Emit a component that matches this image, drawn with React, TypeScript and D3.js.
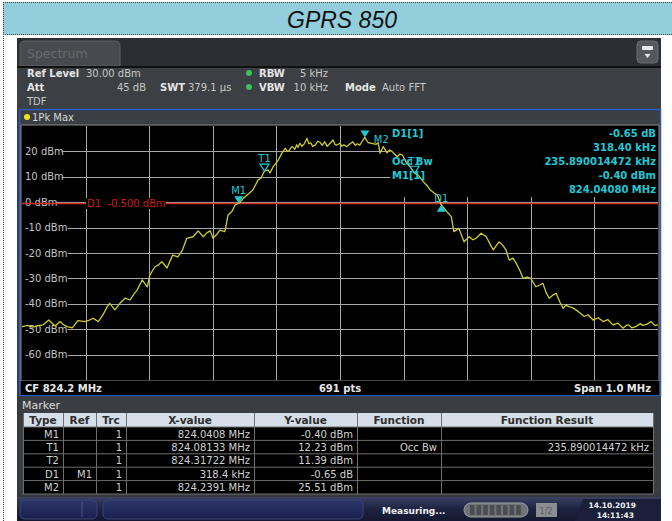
import React from "react";
import * as d3 from "d3";

// Trace: offset from start frequency 823.7 MHz (kHz) and level (dBm)
const traceKHz = [
  0, 9, 17, 25, 33, 42, 52, 60, 66, 71, 79, 88, 99, 105, 112, 120, 127, 134, 138, 146,
  154, 162, 170, 176, 181, 189, 197, 201, 209, 214, 220, 228, 233, 237, 245, 252, 259, 269, 277, 285,
  291, 296, 300, 307, 311, 319, 324, 330, 335, 341, 348, 354, 363, 371, 376, 381, 387, 390, 395, 403,
  409, 414, 417, 420, 423, 425, 429, 432, 434, 437, 440, 444, 448, 451, 454, 457, 461, 465, 469, 472,
  476, 480, 483, 486, 489, 492, 495, 500, 503, 506, 511, 516, 520, 524, 527, 531, 535, 539, 544, 550,
  557, 560, 563, 568, 574, 578, 582, 590, 594, 598, 605, 610, 617, 623, 631, 637, 642, 648, 653, 659,
  668, 675, 679, 687, 695, 703, 709, 714, 722, 730, 736, 741, 750, 756, 761, 766, 772, 777, 783, 788,
  794, 800, 808, 815, 819, 824, 829, 835, 840, 846, 851, 855, 860, 866, 871, 877, 884, 890, 898, 906,
  914, 921, 929, 937, 945, 950, 954, 959, 965, 972, 976, 983, 989, 995, 1000,
];
const traceDbm = [
  -49.0, -48.5, -49.2, -48.6, -48.3, -46.4, -48.7, -47.0, -48.4, -49.0, -49.5, -46.6, -47.0, -46.5, -45.7, -47.0, -44.5, -41.1, -39.8, -42.4,
  -39.8, -37.8, -38.5, -36.2, -34.6, -30.6, -33.3, -28.7, -25.4, -24.8, -23.4, -25.9, -23.0, -20.8, -21.5, -19.0, -14.2, -13.6, -11.3, -13.6,
  -12.0, -11.3, -14.1, -12.5, -11.0, -11.6, -5.0, -3.7, -1.1, -0.4, 1.5, 2.8, 4.8, 8.7, 9.5, 12.2, 12.7, 11.5, 14.0, 16.6,
  19.5, 21.2, 20.0, 20.3, 21.5, 21.9, 20.8, 22.6, 21.6, 23.2, 22.0, 23.0, 25.2, 23.0, 23.4, 22.0, 22.5, 24.0, 23.5, 22.4,
  23.8, 22.0, 22.8, 23.6, 24.5, 22.8, 22.5, 23.2, 22.0, 22.6, 21.9, 23.0, 23.8, 22.4, 23.0, 22.5, 24.0, 25.5, 23.5, 23.2,
  22.8, 23.4, 19.3, 21.9, 19.4, 20.6, 19.9, 17.9, 18.9, 18.6, 15.3, 14.0, 11.4, 10.7, 8.1, 6.5, 4.8, 3.6, 2.8, -1.0,
  -3.7, -5.7, -11.6, -10.3, -15.6, -13.6, -14.8, -14.2, -12.2, -13.6, -16.5, -18.8, -15.6, -17.0, -18.8, -22.8, -22.0, -24.0, -27.0, -30.0,
  -29.5, -30.0, -33.3, -32.5, -31.9, -35.5, -37.8, -36.5, -35.9, -39.5, -41.8, -40.5, -41.1, -41.6, -42.4, -43.5, -45.0, -44.3, -46.4, -45.5,
  -47.0, -46.2, -48.3, -47.6, -49.6, -48.5, -48.3, -49.5, -49.0, -47.8, -48.5, -48.0, -47.0, -48.5, -48.3,
];

const startMHz = 823.7;
const yTicks = [20, 10, 0, -10, -20, -30, -40, -50, -60];
const xGrid = [100, 200, 300, 400, 500, 600, 700, 800, 900];
const displayLine = -0.5;

// marker table
const markerNames = ["M1", "T1", "T2", "D1", "M2"];
const markerRefs = ["", "", "", "M1", ""];
const markerTrcs = ["1", "1", "1", "1", "1"];
const markerXText = ["824.0408 MHz", "824.08133 MHz", "824.31722 MHz", "318.4 kHz", "824.2391 MHz"];
const markerYText = ["-0.40 dBm", "12.23 dBm", "11.39 dBm", "-0.65 dB", "25.51 dBm"];
const markerFunc = ["", "Occ Bw", "", "", ""];
const markerResult = ["", "235.890014472 kHz", "", "", ""];
// marker positions on the trace
const markerMHz = [824.0408, 824.08133, 824.31722, 824.3592, 824.2391];
const markerDbm = [-0.4, 12.23, 11.39, -1.05, 25.51];
const markerKind = ["fill", "hollow", "hollow", "up", "fill"];

const infoLabels = ["D1[1]", "", "Occ Bw", "M1[1]", ""];
const infoValues = ["-0.65 dB", "318.40 kHz", "235.890014472 kHz", "-0.40 dBm", "824.04080 MHz"];

const tableCols = [23, 63, 96, 126, 254, 357, 441, 653];
const tableHeads = ["Type", "Ref", "Trc", "X-value", "Y-value", "Function", "Function Result"];

const FONT = "'DejaVu Sans', Verdana, sans-serif";
const CYAN = "#22c8d4";

export default function App() {
  const x = d3.scaleLinear([0, 1000], [22, 658]);
  const y = d3.scaleLinear([-70, 30], [380, 126]);
  const line = d3
    .line<number>()
    .x((i) => x(traceKHz[i]))
    .y((i) => y(traceDbm[i]));
  const tracePath = line(d3.range(traceKHz.length)) || "";

  const rowTop = (i: number) => 427 + i * 13.4;

  return (
    <svg
      width={672}
      height={521}
      style={{ position: "absolute", left: 0, top: 0, background: "#fff" }}
      fontFamily={FONT}
    >
      {/* title strip */}
      <rect x={3} y={2} width={669} height={33} fill="#93cedd" />
      <line x1={3} x2={672} y1={2.5} y2={2.5} stroke="#444" strokeDasharray="1 1" />
      <line x1={3} x2={672} y1={34.5} y2={34.5} stroke="#444" strokeDasharray="1 1" />
      <line x1={3.5} x2={3.5} y1={2} y2={521} stroke="#444" strokeDasharray="1 1" />
      <text x={342} y={28} textAnchor="middle" fontFamily="'Liberation Sans', Arial, sans-serif" fontStyle="italic" fontSize={23} fill="#111">
        GPRS 850
      </text>

      {/* instrument screen */}
      <rect x={17} y={38} width={644} height={483} fill="#35383c" />
      <rect x={17} y={38} width={644} height={28} fill="#2b2e32" />
      <path d="M20,66 V46 Q20,41 25,41 H115 Q120,41 120,46 V66 Z" fill="#474b4f" stroke="#5c6064" />
      <text x={27} y={58} fontSize={12.5} fill="#666a6e">Spectrum</text>
      <rect x={637} y={41} width={21} height={22} rx={4} fill="#55595d" stroke="#6a6e72" />
      <rect x={642} y={46} width={11} height={4} rx={1} fill="#e8e8f0" />
      <path d="M644.5,54 L650.5,54 L647.5,58 Z" fill="#e8e8f0" />
      <rect x={17} y={66} width={644} height={2} fill="#111" />
      <rect x={17} y={68} width={644} height={41} fill="#3c3f43" />

      <g fontSize={10} fill="#e6e6e6">
        <text x={27} y={77} fontWeight="bold">Ref Level</text>
        <text x={86} y={77} fill="#c8c8c8">30.00 dBm</text>
        <text x={27} y={91} fontWeight="bold">Att</text>
        <text x={146} y={91} fill="#c8c8c8" textAnchor="end">45 dB</text>
        <text x={160} y={91} fontWeight="bold">SWT</text>
        <text x={188} y={91} fill="#c8c8c8">379.1 µs</text>
        <text x={259} y={77} fontWeight="bold">RBW</text>
        <text x={328} y={77} fill="#c8c8c8" textAnchor="end">5 kHz</text>
        <text x={259} y={91} fontWeight="bold">VBW</text>
        <text x={328} y={91} fill="#c8c8c8" textAnchor="end">10 kHz</text>
        <text x={345} y={91} fontWeight="bold">Mode</text>
        <text x={382} y={91} fill="#c8c8c8">Auto FFT</text>
        <text x={27} y={105} fill="#c8c8c8">TDF</text>
      </g>
      <circle cx={249} cy={73} r={3} fill="#3cc05a" />
      <circle cx={249} cy={87} r={3} fill="#3cc05a" />

      {/* diagram window */}
      <rect x={19.5} y={109.5} width={641} height={286} fill="#3b3e42" stroke="#2c5cc0" strokeWidth={1.5} />
      <circle cx={27} cy={117} r={3} fill="#f0e020" />
      <text x={32} y={121} fontSize={10} fill="#d8d8d8">1Pk Max</text>
      <rect x={21} y={125} width={638} height={256} fill="#000" stroke="#8a8a8a" strokeWidth={1} />

      {/* grid */}
      <g stroke="#a8a8a8" strokeWidth={1}>
        {xGrid.map((k) => (
          <line key={k} x1={Math.round(x(k)) + 0.5} x2={Math.round(x(k)) + 0.5} y1={126} y2={380} />
        ))}
        {yTicks.map((v) => (
          <line key={v} x1={22} x2={658} y1={Math.round(y(v)) + 0.5} y2={Math.round(y(v)) + 0.5} />
        ))}
      </g>
      {/* y labels with black backing */}
      {yTicks.map((v) => {
        const label = `${v} dBm`;
        return (
          <g key={v}>
            <rect x={22} y={y(v) - 6} width={label.length * 6.1 + 3} height={12} fill="#000" />
            <text x={25} y={y(v) + 3.5} fontSize={10} fill="#c4c4c4">{label}</text>
          </g>
        );
      })}

      {/* marker info box */}
      <rect x={390} y={126} width={268} height={71} fill="#000" />

      {/* display line */}
      <line x1={22} x2={658} y1={y(displayLine)} y2={y(displayLine)} stroke="#cc3028" strokeWidth={1.5} />
      <rect x={86} y={198} width={80} height={11} fill="#000" />
      <text x={87} y={207} fontSize={10} fill="#c81e16" style={{ whiteSpace: "pre" }}>D1  -0.500 dBm</text>

      {/* trace */}
      <path d={tracePath} fill="none" stroke="#cccc30" strokeWidth={1.3} strokeLinejoin="round" />

      {/* markers */}
      {markerNames.map((name, i) => {
        const px = x((markerMHz[i] - startMHz) * 1000);
        const py = y(markerDbm[i]);
        const kind = markerKind[i];
        if (kind === "up") {
          return (
            <g key={name}>
              <path d={`M${px},${py} L${px + 4.5},${py + 7} L${px - 4.5},${py + 7} Z`} fill={CYAN} />
              <text x={px} y={py - 3} fontSize={10} fill={CYAN} textAnchor="middle">{name}</text>
            </g>
          );
        }
        const tri = `M${px - 4.5},${py - 7} L${px + 4.5},${py - 7} L${px},${py} Z`;
        const labelRight = name === "M2";
        const isT2 = name === "T2";
        return (
          <g key={name}>
            <path
              d={tri}
              fill={kind === "fill" ? CYAN : "none"}
              stroke={CYAN}
              strokeWidth={kind === "fill" ? 0 : 1.2}
            />
            <text
              x={labelRight ? px + 9 : px}
              y={labelRight ? py + 6 : isT2 ? py - 8 : py - 9}
              fontSize={10}
              fill={CYAN}
              textAnchor={labelRight ? "start" : "middle"}
            >
              {name}
            </text>
          </g>
        );
      })}

      {/* marker info texts */}
      <g fontSize={10} fontWeight="bold" fill={CYAN}>
        {infoValues.map((v, i) => (
          <g key={i}>
            {infoLabels[i] && <text x={392} y={137 + i * 14}>{infoLabels[i]}</text>}
            <text x={656} y={137 + i * 14} textAnchor="end">{v}</text>
          </g>
        ))}
      </g>

      {/* footer */}
      <rect x={21} y={381} width={638} height={14} fill="#000" />
      <g fontSize={10} fontWeight="bold" fill="#e8e8e8">
        <text x={25} y={392}>CF 824.2 MHz</text>
        <text x={340} y={392} textAnchor="middle">691 pts</text>
        <text x={651} y={392} textAnchor="end">Span 1.0 MHz</text>
      </g>

      {/* marker table panel */}
      <rect x={19} y={397} width={641} height={98} rx={3} fill="#3a3d41" />
      <text x={22} y={409} fontSize={11} fill="#dcdcdc">Marker</text>
      <rect x={tableCols[0]} y={413} width={tableCols[7] - tableCols[0]} height={14} fill="#d6dee9" />
      <rect x={tableCols[0]} y={427} width={tableCols[7] - tableCols[0]} height={67} fill="#000" />
      {tableHeads.map((h, c) => (
        <text
          key={h}
          x={(tableCols[c] + tableCols[c + 1]) / 2}
          y={424}
          fontSize={10.5}
          fontWeight="bold"
          fill="#2e2e2e"
          textAnchor="middle"
        >
          {h}
        </text>
      ))}
      <g stroke="#6e6e6e" strokeWidth={1}>
        {tableCols.map((cx) => (
          <line key={cx} x1={cx + 0.5} x2={cx + 0.5} y1={413} y2={494} />
        ))}
        {d3.range(6).map((r) => (
          <line key={r} x1={tableCols[0]} x2={tableCols[7]} y1={rowTop(r)} y2={rowTop(r)} />
        ))}
      </g>
      <g fontSize={10} fill="#d2d2d2" textAnchor="end">
        {markerNames.map((name, r) => {
          const cells = [name, markerRefs[r], markerTrcs[r], markerXText[r], markerYText[r], markerFunc[r], markerResult[r]];
          return cells.map((txt, c) =>
            txt ? (
              <text key={`${r}-${c}`} x={tableCols[c + 1] - 4} y={rowTop(r) + 10.5}>
                {txt}
              </text>
            ) : null
          );
        })}
      </g>

      {/* status bar */}
      <defs>
        <linearGradient id="sb" x1="0" x2="0" y1="0" y2="1">
          <stop offset="0" stopColor="#3a4162" />
          <stop offset="0.5" stopColor="#1c2240" />
          <stop offset="1" stopColor="#141830" />
        </linearGradient>
        <linearGradient id="btn" x1="0" x2="0" y1="0" y2="1">
          <stop offset="0" stopColor="#2c3668" />
          <stop offset="1" stopColor="#1a2050" />
        </linearGradient>
      </defs>
      <rect x={17} y={497} width={644} height={24} fill="url(#sb)" />
      <path d="M575,521 L583,499 L661,499 L661,521 Z" fill="#1a1f3a" />
      <rect x={20} y={500} width={77} height={19} rx={5} fill="url(#btn)" stroke="#3a4478" />
      <line x1={82} x2={82} y1={502} y2={517} stroke="#4a5488" />
      <rect x={103} y={500} width={260} height={19} rx={5} fill="url(#btn)" stroke="#3a4478" />
      <text x={382} y={514} fontSize={9} fontWeight="bold" fill="#f0f0f0">Measuring...</text>
      <rect x={464} y={503} width={64} height={14} rx={7} fill="#707478" stroke="#9a9ea2" />
      {d3.range(8).map((k) => (
        <rect key={k} x={470 + k * 6.6} y={505} width={4.6} height={10} fill="#4a4e52" />
      ))}
      <rect x={536} y={503} width={21} height={14} fill="#8a8e92" />
      <text x={546} y={513.5} fontSize={8} fill="#5a5e62" textAnchor="middle">1/2</text>
      <g fontSize={7.5} fontWeight="bold" fill="#f0f0f0" textAnchor="end">
        <text x={636} y={508}>14.10.2019</text>
        <text x={634} y={518}>14:11:43</text>
      </g>
    </svg>
  );
}
